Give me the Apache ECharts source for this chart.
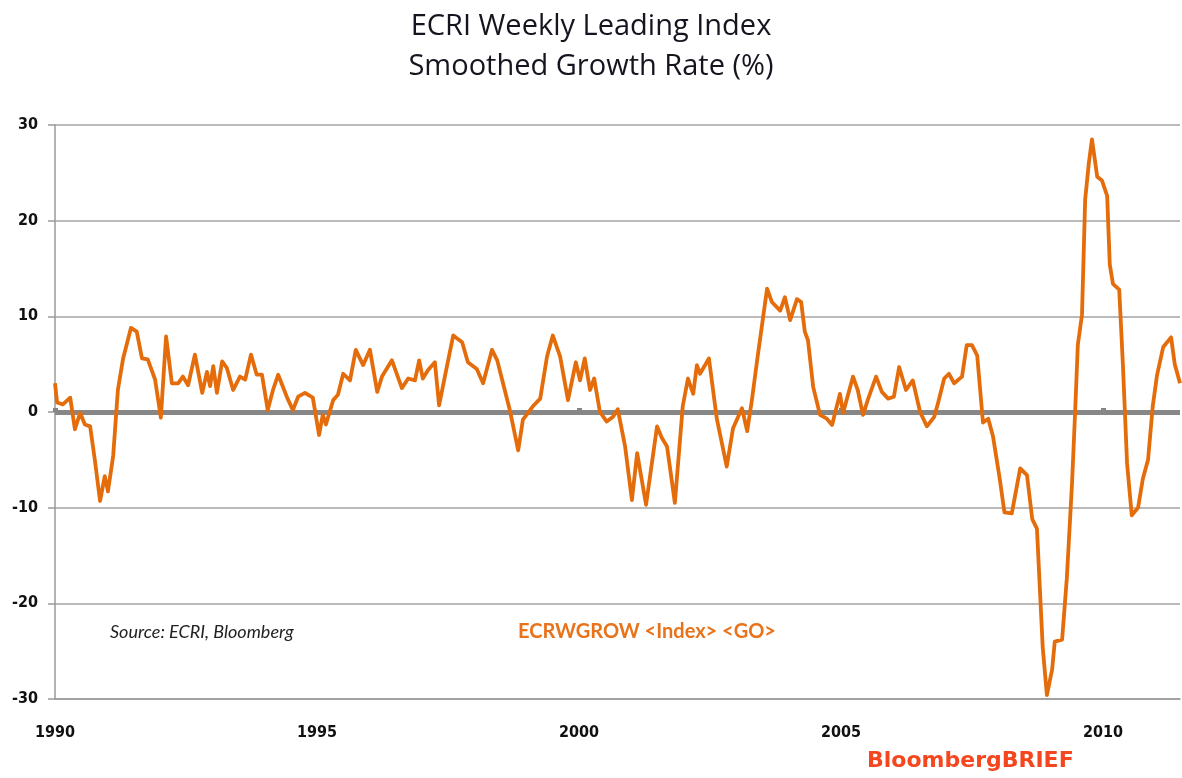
<!DOCTYPE html>
<html>
<head>
<meta charset="utf-8">
<script src="https://cdn.jsdelivr.net/npm/echarts@6/dist/echarts.min.js"></script>
<style>
  html, body { margin: 0; padding: 0; background: #ffffff; }
  #chart { width: 1182px; height: 778px; }
</style>
</head>
<body>
<div id="chart"></div>
<script>
// Decimal year of each reading
var years = [
  1990.00, 1990.04, 1990.15, 1990.29, 1990.38, 1990.48, 1990.57, 1990.67, 1990.76, 1990.86,
  1990.95, 1991.01, 1991.11, 1991.20, 1991.30, 1991.45, 1991.56, 1991.66, 1991.77, 1991.91,
  1992.02, 1992.12, 1992.23, 1992.35, 1992.44, 1992.54, 1992.67, 1992.81, 1992.90, 1992.96,
  1993.02, 1993.09, 1993.19, 1993.28, 1993.40, 1993.53, 1993.63, 1993.74, 1993.85, 1993.95,
  1994.06, 1994.16, 1994.26, 1994.43, 1994.54, 1994.64, 1994.77, 1994.92, 1995.04, 1995.11,
  1995.17, 1995.31, 1995.40, 1995.50, 1995.63, 1995.74, 1995.88, 1996.01, 1996.15, 1996.24,
  1996.43, 1996.62, 1996.74, 1996.87, 1996.95, 1997.02, 1997.12, 1997.25, 1997.33, 1997.44,
  1997.60, 1997.77, 1997.88, 1998.05, 1998.17, 1998.34, 1998.44, 1998.55, 1998.68, 1998.84,
  1998.93, 1999.12, 1999.26, 1999.39, 1999.50, 1999.64, 1999.79, 1999.94, 2000.02, 2000.11,
  2000.21, 2000.29, 2000.40, 2000.53, 2000.65, 2000.74, 2000.88, 2001.01, 2001.11, 2001.28,
  2001.49, 2001.58, 2001.68, 2001.83, 2001.98, 2002.08, 2002.18, 2002.25, 2002.31, 2002.48,
  2002.63, 2002.82, 2002.94, 2003.11, 2003.21, 2003.30, 2003.40, 2003.59, 2003.68, 2003.84,
  2003.93, 2004.03, 2004.16, 2004.24, 2004.31, 2004.37, 2004.47, 2004.60, 2004.73, 2004.83,
  2004.98, 2005.04, 2005.23, 2005.32, 2005.42, 2005.52, 2005.67, 2005.78, 2005.90, 2006.01,
  2006.11, 2006.24, 2006.37, 2006.51, 2006.64, 2006.78, 2006.85, 2006.97, 2007.06, 2007.16,
  2007.31, 2007.40, 2007.50, 2007.60, 2007.71, 2007.81, 2007.90, 2008.03, 2008.12, 2008.26,
  2008.42, 2008.55, 2008.65, 2008.74, 2008.85, 2008.93, 2009.03, 2009.08, 2009.22, 2009.31,
  2009.41, 2009.47, 2009.52, 2009.60, 2009.66, 2009.73, 2009.79, 2009.89, 2009.98, 2010.08,
  2010.13, 2010.19, 2010.31, 2010.38, 2010.46, 2010.55, 2010.67, 2010.76, 2010.86, 2010.95,
  2011.03, 2011.15, 2011.30, 2011.37, 2011.47
];
// Smoothed growth rate (%)
var growth = [
  3.0, 1.0, 0.8, 1.5, -1.8, -0.1, -1.3, -1.5, -5.0, -9.3,
  -6.7, -8.3, -4.6, 2.3, 5.6, 8.8, 8.4, 5.6, 5.5, 3.4,
  -0.6, 7.9, 3.0, 3.0, 3.7, 2.8, 6.0, 2.0, 4.2, 2.7,
  4.8, 2.0, 5.3, 4.6, 2.3, 3.7, 3.4, 6.0, 3.9, 3.9,
  0.2, 2.3, 3.9, 1.5, 0.2, 1.6, 2.0, 1.5, -2.4, -0.3,
  -1.3, 1.25, 1.8, 4.0, 3.3, 6.5, 4.9, 6.5, 2.1, 3.7,
  5.4, 2.5, 3.5, 3.3, 5.4, 3.5, 4.4, 5.2, 0.7, 3.7,
  8.0, 7.3, 5.2, 4.5, 3.0, 6.5, 5.4, 3.0, 0.2, -4.0,
  -0.8, 0.6, 1.4, 5.8, 8.0, 5.8, 1.25, 5.2, 3.3, 5.6,
  2.3, 3.5, 0.0, -1.0, -0.5, 0.3, -3.6, -9.2, -4.3, -9.7,
  -1.5, -2.7, -3.6, -9.5, 0.6, 3.5, 1.9, 4.9, 4.0, 5.6,
  -0.7, -5.7, -1.7, 0.4, -2.0, 1.25, 5.4, 12.9, 11.5, 10.6,
  12.0, 9.6, 11.8, 11.5, 8.4, 7.5, 2.6, -0.3, -0.7, -1.35,
  1.9, -0.1, 3.7, 2.3, -0.3, 1.4, 3.7, 2.1, 1.4, 1.6,
  4.7, 2.3, 3.3, 0.0, -1.5, -0.5, 0.9, 3.5, 4.0, 3.0,
  3.7, 7.0, 7.0, 5.9, -1.1, -0.7, -2.5, -7.0, -10.5, -10.6,
  -5.9, -6.6, -11.2, -12.2, -24.6, -29.6, -26.9, -24.0, -23.8, -17.4,
  -7.4, 0.2, 7.0, 10.2, 22.2, 26.0, 28.5, 24.6, 24.2, 22.6,
  15.4, 13.4, 12.8, 5.0, -5.4, -10.8, -10.0, -7.0, -5.0, 0.6,
  3.8, 6.8, 7.8, 5.0, 3.0
];
var yearTicks = [1990, 1995, 2000, 2005, 2010];
var zeroTicks = [1990, 2000, 2005, 2010];
var yTicks = [-30, -20, -10, 0, 10, 20, 30];
var titleText = 'ECRI Weekly Leading Index\nSmoothed Growth Rate (%)';
var sourceText = 'Source: ECRI, Bloomberg';
var tickerText = 'ECRWGROW <Index> <GO>';
var brandText = 'BloombergBRIEF';

var seriesData = years.map(function (y, i) { return [y, growth[i]]; });

var chart = echarts.init(document.getElementById('chart'), null, { renderer: 'canvas' });
var axisFont = '"DejaVu Sans Condensed", "DejaVu Sans", sans-serif';
var option = {
  animation: false,
  backgroundColor: '#ffffff',
  title: {
    text: titleText,
    left: 'center',
    top: 2,
    textStyle: {
      fontFamily: '"Open Sans", Lato, sans-serif',
      fontWeight: 'normal',
      fontSize: 29,
      lineHeight: 40,
      color: '#15151f'
    }
  },
  grid: { left: 55, right: 2, top: 125, bottom: 79, containLabel: false },
  xAxis: [{
    type: 'value',
    min: 1990,
    max: years[years.length - 1],
    interval: 5,
    axisLine: { onZero: false, lineStyle: { color: '#9a9a9a', width: 1.5 } },
    axisTick: { show: false },
    splitLine: { show: false },
    axisLabel: {
      showMaxLabel: false,
      margin: 26,
      fontFamily: axisFont,
      fontWeight: 'bold',
      fontSize: 16,
      color: '#111111',
      formatter: function (v) { return yearTicks.indexOf(v) >= 0 ? String(v) : ''; }
    }
  }, {
    type: 'value',
    min: 1990,
    max: years[years.length - 1],
    interval: 5,
    axisLine: { show: false, onZero: true },
    axisTick: { show: true, inside: false, length: 4, customValues: zeroTicks, lineStyle: { color: '#858585', width: 5 } },
    axisLabel: { show: false },
    splitLine: { show: false }
  }],
  yAxis: {
    type: 'value',
    min: -30,
    max: 30,
    interval: 10,
    axisLine: { show: true, lineStyle: { color: '#9a9a9a', width: 1.5 } },
    axisTick: { show: true, length: 7, lineStyle: { color: '#9a9a9a', width: 1.5 } },
    splitLine: { show: true, lineStyle: { color: '#a3a3a3', width: 1.5 } },
    axisLabel: {
      margin: 17,
      fontFamily: axisFont,
      fontWeight: 'bold',
      fontSize: 16,
      color: '#111111',
      formatter: function (v) { return yTicks.indexOf(v) >= 0 ? String(v) : ''; }
    }
  },
  series: [{
    type: 'line',
    data: [],
    z: 1,
    silent: true,
    markLine: {
      silent: true,
      symbol: ['none', 'none'],
      label: { show: false },
      lineStyle: { color: '#878787', width: 5, type: 'solid' },
      data: [{ yAxis: 0 }]
    }
  }, {
    type: 'line',
    data: seriesData,
    z: 5,
    showSymbol: false,
    symbol: 'none',
    smooth: false,
    lineStyle: { color: '#E46C0A', width: 3.8, join: 'round' }
  }],
  graphic: [{
    type: 'text',
    left: 110,
    top: 623,
    style: {
      text: sourceText,
      font: 'italic 18px Lato, "Open Sans", sans-serif',
      fill: '#222222'
    }
  }, {
    type: 'text',
    left: 518,
    top: 622,
    style: {
      text: tickerText,
      font: 'bold 20px Lato, "Open Sans", sans-serif',
      fill: '#E8731A'
    }
  }, {
    type: 'text',
    left: 867,
    top: 750,
    style: {
      text: brandText,
      font: 'bold 22px "DejaVu Sans", Verdana, sans-serif',
      fill: '#F5461E'
    }
  }]
};
chart.setOption(option);
</script>
</body>
</html>
